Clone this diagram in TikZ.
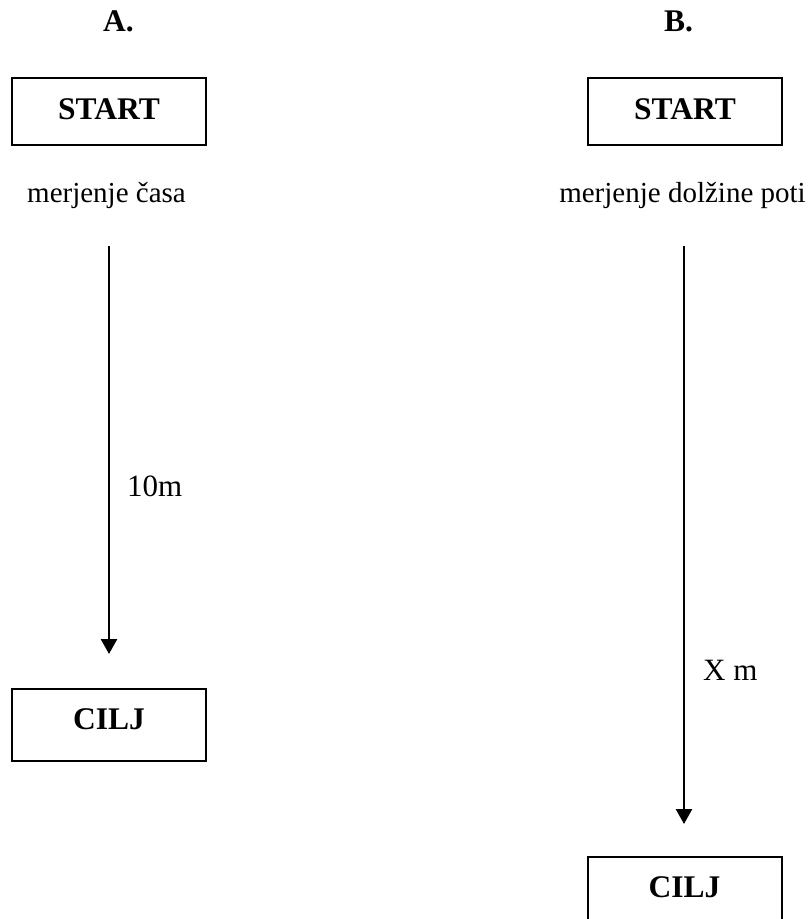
\documentclass[tikz,border=0pt]{standalone}
\usepackage{fontspec}
\setmainfont{Liberation Serif}
\usetikzlibrary{arrows.meta}
\tikzset{
  boxnode/.style={draw, line width=2pt, rectangle, inner sep=0pt, minimum width=194pt, anchor=base, font=\fontsize{31.5}{36}\selectfont\bfseries},
  headtxt/.style={anchor=base, inner sep=0pt, font=\fontsize{31.5}{36}\selectfont\bfseries},
  measure/.style={anchor=base, inner sep=0pt, font=\fontsize{29}{34}\selectfont},
  dist/.style={anchor=base west, inner sep=0pt, font=\fontsize{31}{36}\selectfont},
  arr/.style={line width=2.5pt, -{Triangle[width=16pt,length=15pt]}}
}
\begin{document}
\begin{tikzpicture}[x=1pt,y=-1pt]
\useasboundingbox (0,0) rectangle (811,919);
\clip (0,0) rectangle (811,919);
% headings
\node[headtxt] (hA) at (118.5,31) {A.};
\node[headtxt] (hB) at (678.5,31) {B.};
% start boxes
\node[boxnode, text height=41pt, text depth=26pt] (startA) at (109,119) {START};
\node[boxnode, text height=41pt, text depth=26pt] (startB) at (685,119) {START};
% measurement labels
\node[measure] (mA) at (106.5,202) {merjenje časa};
\node[measure] (mB) at (682.5,202) {merjenje dolžine poti};
% arrows
\coordinate (a1) at (109,246);
\coordinate (a2) at (109,654);
\coordinate (b1) at (684,246);
\coordinate (b2) at (684,824);
\draw[arr] (a1) -- (a2);
\draw[arr] (b1) -- (b2);
% distance labels
\node[dist] (dA) at (127,496) {10m};
\node[dist] (dB) at (703,680) {X m};
% goal boxes
\node[boxnode, text height=40pt, text depth=32pt] (ciljA) at (109,729) {CILJ};
\node[boxnode, text height=40pt, text depth=70pt] (ciljB) at (684.5,897) {CILJ};
\end{tikzpicture}
\end{document}
